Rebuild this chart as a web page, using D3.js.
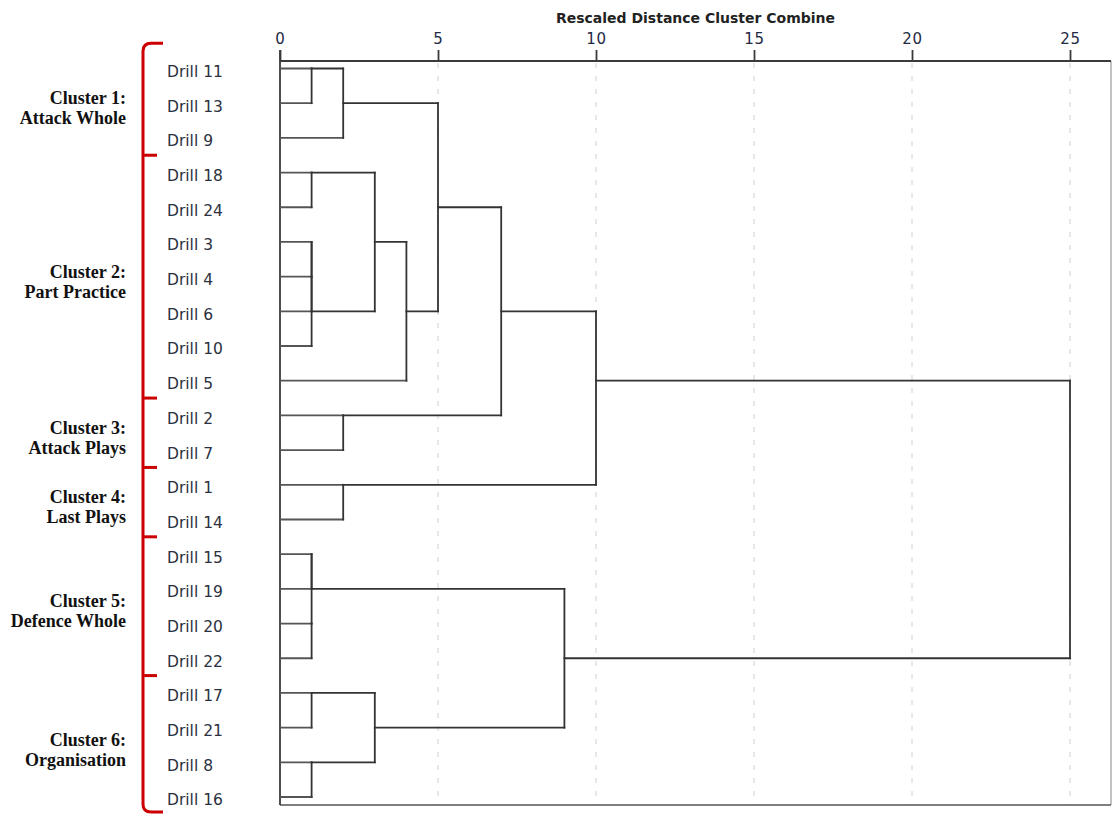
<!DOCTYPE html>
<html>
<head>
<meta charset="utf-8">
<script src="https://cdn.jsdelivr.net/npm/d3@7"></script>
<style>
  body { margin: 0; background: #fff; }
  svg { display: block; }
</style>
</head>
<body>
<div id="chart-area"></div>
<script>
var w = 1112;
var h = 814;

// leaf order, top to bottom
const drills = ["Drill 11", "Drill 13", "Drill 9", "Drill 18", "Drill 24", "Drill 3", "Drill 4",
  "Drill 6", "Drill 10", "Drill 5", "Drill 2", "Drill 7", "Drill 1", "Drill 14", "Drill 15",
  "Drill 19", "Drill 20", "Drill 22", "Drill 17", "Drill 21", "Drill 8", "Drill 16"];

// agglomeration schedule: [left, right, rescaled distance]; "m<i>" = result of merge i
const merges = [
  ["Drill 11", "Drill 13", 1],  // m0
  ["m0", "Drill 9", 2],         // m1
  ["Drill 18", "Drill 24", 1],  // m2
  ["Drill 3", "Drill 4", 1],    // m3
  ["m3", "Drill 6", 1],         // m4
  ["m4", "Drill 10", 1],        // m5
  ["m2", "m5", 3],              // m6
  ["m6", "Drill 5", 4],         // m7
  ["m1", "m7", 5],              // m8
  ["Drill 2", "Drill 7", 2],    // m9
  ["m8", "m9", 7],              // m10
  ["Drill 1", "Drill 14", 2],   // m11
  ["m10", "m11", 10],           // m12
  ["Drill 15", "Drill 19", 1],  // m13
  ["Drill 20", "Drill 22", 1],  // m14
  ["m13", "m14", 1],            // m15
  ["Drill 17", "Drill 21", 1],  // m16
  ["Drill 8", "Drill 16", 1],   // m17
  ["m16", "m17", 3],            // m18
  ["m15", "m18", 9],            // m19
  ["m12", "m19", 25]            // m20
];

const clusterNames = ["Cluster 1:", "Cluster 2:", "Cluster 3:", "Cluster 4:", "Cluster 5:", "Cluster 6:"];
const clusterTypes = ["Attack Whole", "Part Practice", "Attack Plays", "Last Plays", "Defence Whole", "Organisation"];
const clusterFirst = ["Drill 11", "Drill 18", "Drill 2", "Drill 1", "Drill 15", "Drill 17"];
const clusterLast = ["Drill 9", "Drill 5", "Drill 7", "Drill 14", "Drill 22", "Drill 16"];

const distTicks = [0, 5, 10, 15, 20, 25];
const axisTitle = "Rescaled Distance Cluster Combine";

const FRAME = { LEFT: 280, RIGHT: 1111, TOP: 61, BOTTOM: 805 };

var x = d3.scaleLinear().domain([0, 25]).range([FRAME.LEFT, 1070]);
var y = d3.scaleLinear().domain([0, drills.length - 1]).range([68.5, 797]);

var svg = d3.select("#chart-area").append("svg")
  .attr("width", w).attr("height", h)
  .style("background-color", "#ffffff");

// dashed grid
svg.append("g").selectAll("line")
  .data(distTicks.slice(1))
  .enter().append("line")
  .attr("x1", d => x(d)).attr("x2", d => x(d))
  .attr("y1", FRAME.TOP + 2).attr("y2", FRAME.BOTTOM)
  .attr("stroke", "#d0d0d0")
  .attr("stroke-width", 1)
  .attr("stroke-dasharray", "5,8");

// frame
svg.append("line") // right
  .attr("x1", FRAME.RIGHT).attr("x2", FRAME.RIGHT)
  .attr("y1", FRAME.TOP).attr("y2", FRAME.BOTTOM)
  .attr("stroke", "#9a9a9a").attr("stroke-width", 1.2);
svg.append("line") // bottom
  .attr("x1", FRAME.LEFT).attr("x2", FRAME.RIGHT)
  .attr("y1", FRAME.BOTTOM).attr("y2", FRAME.BOTTOM)
  .attr("stroke", "#555").attr("stroke-width", 1.6);
svg.append("line") // left
  .attr("x1", FRAME.LEFT).attr("x2", FRAME.LEFT)
  .attr("y1", 50).attr("y2", FRAME.BOTTOM)
  .attr("stroke", "#3a3a3a").attr("stroke-width", 1.8);
svg.append("line") // top
  .attr("x1", FRAME.LEFT).attr("x2", FRAME.RIGHT)
  .attr("y1", FRAME.TOP).attr("y2", FRAME.TOP)
  .attr("stroke", "#3a3a3a").attr("stroke-width", 2);

// top axis
var axis = svg.append("g")
  .attr("transform", "translate(0," + FRAME.TOP + ")")
  .call(d3.axisTop(x).tickValues(distTicks).tickSize(11).tickSizeOuter(0).tickPadding(6));
axis.select(".domain").remove();
axis.selectAll(".tick line").attr("stroke", "#3a3a3a").attr("stroke-width", 1.8);
axis.selectAll(".tick text")
  .attr("fill", "#1f2a44")
  .style("font-family", "DejaVu Sans, sans-serif")
  .style("font-size", "15px")
  .style("letter-spacing", "0.8px");

svg.append("text")
  .attr("x", (FRAME.LEFT + FRAME.RIGHT) / 2)
  .attr("y", 23)
  .attr("text-anchor", "middle")
  .attr("fill", "#222")
  .style("font-family", "DejaVu Sans, sans-serif")
  .style("font-weight", "bold")
  .style("font-size", "14px")
  .text(axisTitle);

// dendrogram
var nodes = {};
drills.forEach((d, i) => { nodes[d] = { row: i, dist: 0, leaf: true }; });

var hSegs = [];
var vSegs = [];
merges.forEach((m, i) => {
  var a = nodes[m[0]], b = nodes[m[1]];
  [a, b].forEach(c => {
    if (m[2] > c.dist) hSegs.push({ row: c.row, d0: c.dist, d1: m[2], leaf: c.leaf });
  });
  vSegs.push({ d: m[2], r0: Math.min(a.row, b.row), r1: Math.max(a.row, b.row) });
  nodes["m" + i] = { row: Math.floor((a.row + b.row) / 2), dist: m[2], leaf: false };
});

var dg = svg.append("g")
  .attr("fill", "none")
  .attr("stroke-linecap", "square");

dg.selectAll("line.h")
  .data(hSegs)
  .enter().append("line")
  .attr("class", "h")
  .attr("x1", d => x(d.d0)).attr("x2", d => x(d.d1))
  .attr("y1", d => y(d.row)).attr("y2", d => y(d.row))
  .attr("stroke", d => d.leaf ? "#555" : "#333")
  .attr("stroke-width", 1.8);

dg.selectAll("line.v")
  .data(vSegs)
  .enter().append("line")
  .attr("class", "v")
  .attr("x1", d => x(d.d)).attr("x2", d => x(d.d))
  .attr("y1", d => y(d.r0)).attr("y2", d => y(d.r1))
  .attr("stroke", "#333")
  .attr("stroke-width", 1.8);

// leaf labels
svg.append("g").selectAll("text")
  .data(drills)
  .enter().append("text")
  .attr("x", 167)
  .attr("y", (d, i) => y(i) + 3)
  .attr("dy", "0.35em")
  .attr("fill", "#2b3140")
  .style("font-family", "DejaVu Sans, sans-serif")
  .style("font-size", "15.5px")
  .text(d => d);

// red bracket
var bx = 143, rad = 8;
var bTop = y(-0.73), bBottom = y(21.43);
svg.append("path")
  .attr("d", "M" + 163 + "," + bTop +
    " H" + (bx + rad) +
    " Q" + bx + "," + bTop + " " + bx + "," + (bTop + rad) +
    " V" + (bBottom - rad) +
    " Q" + bx + "," + bBottom + " " + (bx + rad) + "," + bBottom +
    " H" + 163)
  .attr("fill", "none")
  .attr("stroke", "#cc0000")
  .attr("stroke-width", 3);

var bounds = clusterLast.slice(0, -1).map(d => (y(drills.indexOf(d)) + y(drills.indexOf(d) + 1)) / 2);
svg.append("g").selectAll("line")
  .data(bounds)
  .enter().append("line")
  .attr("x1", bx).attr("x2", 157)
  .attr("y1", d => d).attr("y2", d => d)
  .attr("stroke", "#cc0000")
  .attr("stroke-width", 3);

// cluster labels
var cl = svg.append("g")
  .attr("text-anchor", "end")
  .style("font-family", "Liberation Serif, Times New Roman, serif")
  .style("font-weight", "bold")
  .style("font-size", "18px")
  .attr("fill", "#111");

clusterNames.forEach((name, i) => {
  var mid = (y(drills.indexOf(clusterFirst[i])) + y(drills.indexOf(clusterLast[i]))) / 2;
  cl.append("text").attr("x", 126).attr("y", mid + 1).text(name);
  cl.append("text").attr("x", 126).attr("y", mid + 21).text(clusterTypes[i]);
});
</script>
</body>
</html>
